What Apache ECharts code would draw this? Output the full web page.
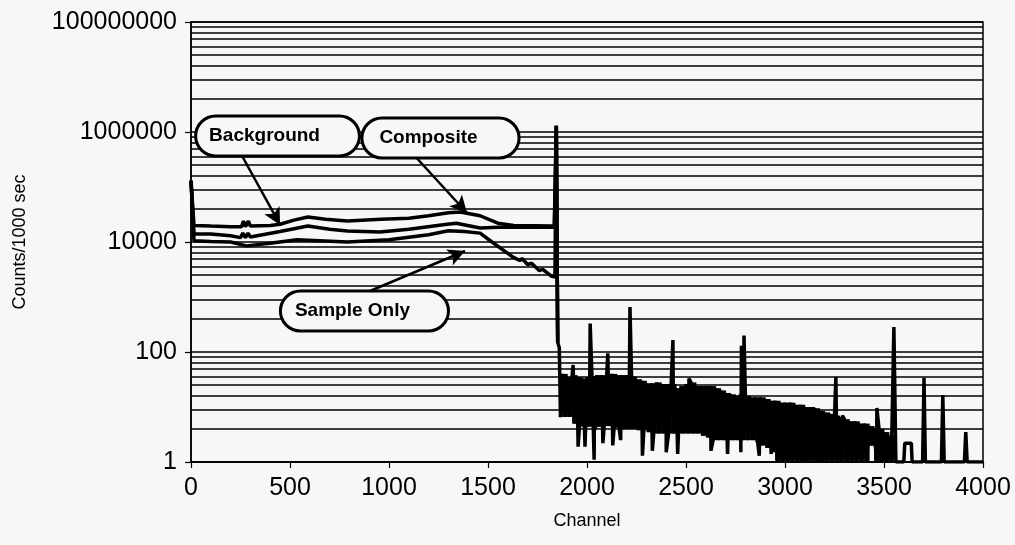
<!DOCTYPE html>
<html><head><meta charset="utf-8">
<script src="https://cdn.jsdelivr.net/npm/echarts@6/dist/echarts.min.js"></script>
<style>html,body{margin:0;padding:0;background:#f7f7f7}#c{width:1015px;height:545px}</style>
</head><body><div id="c"></div>
<script>
// ---- axis ticks ----
const yTicks = [1, 100, 10000, 1000000, 100000000];
const minorFactors = [4, 9, 16, 25, 36, 49, 64, 81];

// ---- Background (channels 0-1850) ----
const bgCh  = [0, 15, 100, 200, 250, 262, 275, 288, 300, 450, 590, 700, 790, 955, 1100, 1293, 1340, 1460, 1550, 1700, 1835, 1845, 1852];
const bgVal = [130000, 14000, 14000, 13000, 12000, 14500, 12000, 14500, 12300, 15500, 19500, 17000, 15800, 15200, 17000, 21000, 22000, 18000, 18500, 18500, 18500, 1300000, 150];

// ---- Composite (channels 0-1866, then spectrum) ----
const compCh  = [0, 15, 100, 200, 255, 265, 275, 290, 300, 400, 450, 520, 590, 680, 790, 960, 1100, 1200, 1300, 1360, 1460, 1550, 1630, 1835, 1845, 1852, 1860, 1866];
const compVal = [130000, 20000, 19500, 19000, 19000, 24000, 19000, 24000, 19500, 20000, 21000, 25000, 28500, 26000, 24000, 26000, 27000, 30000, 34000, 35000, 30000, 22000, 20000, 19500, 1300000, 150, 120, 6.5];

// ---- Sample Only (channels 0-1850) ----
const sampCh  = [0, 15, 100, 200, 280, 400, 535, 790, 1000, 1200, 1300, 1380, 1460, 1520, 1626, 1660, 1672, 1700, 1720, 1760, 1775, 1820, 1838, 1845, 1852];
const sampVal = [130000, 10500, 10200, 10000, 8500, 9500, 11000, 10000, 11000, 13500, 16000, 15500, 14500, 10000, 5300, 4600, 5000, 3900, 4100, 3000, 3200, 2400, 2300, 1300000, 150];

// ---- spectrum noise band, read per 25-channel window: top / bottom of the solid band ----
const noiseCh  = [1875,1900,1925,1950,1975,2000,2025,2050,2075,2100,2125,2150,2175,2200,2225,2250,2275,2300,2325,2350,2375,2400,2425,2450,2475,2500,2525,2550,2575,2600,2625,2650,2675,2700,2725,2750,2775,2800,2825,2850,2875,2900,2925,2950,2975,3000,3025,3050,3075,3100,3125,3150,3175,3200,3225,3250,3275,3300,3325,3350,3375,3400,3425,3450,3475,3500,3525];
const noiseTop = [40,35,38,35,33,35,36,38,38,40,40,38,38,38,36,32,30,27,27,28,26,26,26,22,24,26,28,24,24,24,24,22,20,18,17,16,17,16,15,15,15,14,13,13,12,12,12,11,11,10,10,9.5,8.5,8,7.5,7,6.5,6,5.5,5.5,5,5,4.5,4,4,3.5,3];
const noiseBot = [6.6,6.6,5,4.4,4.4,4.4,4,4.4,4.5,4.5,4.2,4.2,4,4,4,3.8,3.8,3.5,3.3,3.3,3.3,3.3,3.3,3.3,3.3,3.3,3.3,3.3,3,2.8,2.5,2.5,2.5,2.5,2.5,2.5,2.5,2.5,2.5,2.3,2,1.8,1.5,1.05,1.05,1.05,1.05,1.05,1.05,1.05,1.05,1.05,1.05,1.05,1.05,1.05,1.05,1.05,1.05,1.05,1.05,1.05,2,1.05,1.05,1.05,1.05];

// ---- narrow downward dips below the band ----
const dipCh  = [1955, 1990, 2036, 2080, 2130, 2170, 2280, 2330, 2400, 2458, 2626, 2710, 2777, 2870, 2930];
const dipVal = [1.9, 1.9, 1.1, 2.2, 2.0, 2.5, 1.3, 1.6, 1.5, 1.4, 1.6, 1.4, 1.5, 1.3, 1.4];

// ---- spectrum peaks ----
const peakCh  = [1930, 2016, 2105, 2217, 2434, 2515, 2780, 2793, 3257, 3290, 3464, 3550, 3702, 3797, 3913];
const peakVal = [58, 330, 95, 660, 165, 33, 130, 200, 35, 7, 9.6, 285, 34, 16.5, 3.5];

// ---- spectrum baseline after 3550 ----
const baseCh  = [3560, 3600, 3605, 3638, 3642, 3695, 3709, 3790, 3804, 3906, 3920, 4000];
const baseVal = [1, 1, 2.2, 2.2, 1, 1, 1, 1, 1, 1, 1, 1];

// ---- callouts (anchored in data coordinates) ----
const calloutText = ['Background', 'Composite', 'Sample Only'];
const calloutCh   = [437, 1260, 876];
const calloutVal  = [846000, 778000, 556];
const arrowFrom   = [[247, 433000], [1121, 398000], [904, 1285]];
const arrowTo     = [[450, 20400], [1394, 33700], [1384, 6860]];

const zip = (a, b) => a.map((v, i) => [v, b[i]]);
const spectrum = [];
noiseCh.forEach((c, i) => { spectrum.push([c, noiseTop[i]]); spectrum.push([c + 12, noiseBot[i]]); });
dipCh.forEach((c, i) => spectrum.push([c, dipVal[i]]));
peakCh.forEach((c, i) => spectrum.push([c, peakVal[i]]));
baseCh.forEach((c, i) => spectrum.push([c, baseVal[i]]));
spectrum.sort((a, b) => a[0] - b[0]);
const compositeData = zip(compCh, compVal).concat(spectrum);
const bandData = noiseCh.map((c, i) => [c, noiseTop[i], noiseBot[i]]);
const bandStep = noiseCh[1] - noiseCh[0];

const minorLines = [];
yTicks.slice(0, -1).forEach(t => minorFactors.forEach(f => minorLines.push({ yAxis: t * f })));

const FONT = 'Liberation Sans';
const lineStyle = { color: '#000', width: 3.5 };
const pads = [[9, 38, 9, 12], [9, 40, 9, 16], [9, 37, 9, 13]];

const chart = echarts.init(document.getElementById('c'), null, { renderer: 'canvas' });
chart.setOption({
  animation: false,
  backgroundColor: '#f7f7f7',
  grid: { left: 191, right: 32, top: 22, bottom: 83, show: true, borderColor: '#000', borderWidth: 1.5, backgroundColor: 'transparent' },
  xAxis: {
    type: 'value', min: 0, max: 4000, interval: 500,
    name: 'Channel', nameLocation: 'middle', nameGap: 50,
    nameTextStyle: { fontFamily: FONT, fontSize: 18, color: '#000' },
    axisLine: { lineStyle: { color: '#000', width: 1.5 } },
    axisTick: { show: true, length: 6, lineStyle: { color: '#000', width: 1.2 } },
    axisLabel: { fontFamily: FONT, fontSize: 25, color: '#000', margin: 14, formatter: v => String(v) },
    splitLine: { show: false }
  },
  yAxis: {
    type: 'log', logBase: 100, min: yTicks[0], max: yTicks[yTicks.length - 1],
    name: 'Counts/1000 sec', nameLocation: 'middle', nameGap: 162,
    nameTextStyle: { fontFamily: FONT, fontSize: 18, color: '#000' },
    axisLine: { show: true, lineStyle: { color: '#000', width: 1.5 } },
    axisTick: { show: true, length: 6, lineStyle: { color: '#000', width: 1.2 } },
    axisLabel: { fontFamily: FONT, fontSize: 25, color: '#000', margin: 14, formatter: v => String(Math.round(v)) },
    splitLine: { show: true, lineStyle: { color: '#000', width: 1.5 } },
    minorTick: { show: false }, minorSplitLine: { show: false }
  },
  series: [
    { type: 'line', name: 'grid', data: [[0, 1]], showSymbol: false, silent: true, z: 1,
      lineStyle: { width: 0, opacity: 0 },
      markLine: { silent: true, symbol: ['none', 'none'], label: { show: false },
        lineStyle: { color: '#000', width: 1.5, type: 'solid' }, emphasis: { disabled: true }, data: minorLines } },
    { type: 'custom', name: 'band', data: bandData, silent: true, z: 3, encode: { x: 0, y: [1, 2] },
      renderItem: (params, api) => {
        const p1 = api.coord([api.value(0), api.value(1)]);
        const p2 = api.coord([api.value(0) + bandStep, api.value(2)]);
        return { type: 'rect', shape: { x: p1[0], y: p1[1], width: p2[0] - p1[0] + 0.5, height: p2[1] - p1[1] }, style: { fill: '#000' } };
      } },
    { type: 'line', name: 'Sample Only', data: zip(sampCh, sampVal), showSymbol: false, lineStyle, z: 3 },
    { type: 'line', name: 'Background', data: zip(bgCh, bgVal), showSymbol: false, lineStyle, z: 3 },
    { type: 'line', name: 'Composite', data: compositeData, showSymbol: false, lineStyle, z: 3 },
    { type: 'line', name: 'callouts', data: [[0, 1]], showSymbol: false, silent: true, z: 6,
      lineStyle: { width: 0, opacity: 0 },
      markLine: { silent: true, symbol: ['none', 'arrow'], symbolSize: [13, 17], label: { show: false },
        lineStyle: { color: '#000', width: 2.5, type: 'solid' }, emphasis: { disabled: true },
        data: arrowFrom.map((f, i) => [{ coord: f }, { coord: arrowTo[i] }]) },
      markPoint: { silent: true, symbol: 'circle', symbolSize: 1, itemStyle: { color: 'rgba(0,0,0,0)' },
        label: { show: true, position: 'inside', formatter: '{b}', color: '#000', fontFamily: FONT, fontSize: 19,
          fontWeight: 'bold', backgroundColor: '#f7f7f7', borderColor: '#000', borderWidth: 3, borderRadius: 19 },
        data: calloutText.map((t, i) => ({ name: t, coord: [calloutCh[i], calloutVal[i]], label: { padding: pads[i] } })) } }
  ]
});
</script></body></html>
